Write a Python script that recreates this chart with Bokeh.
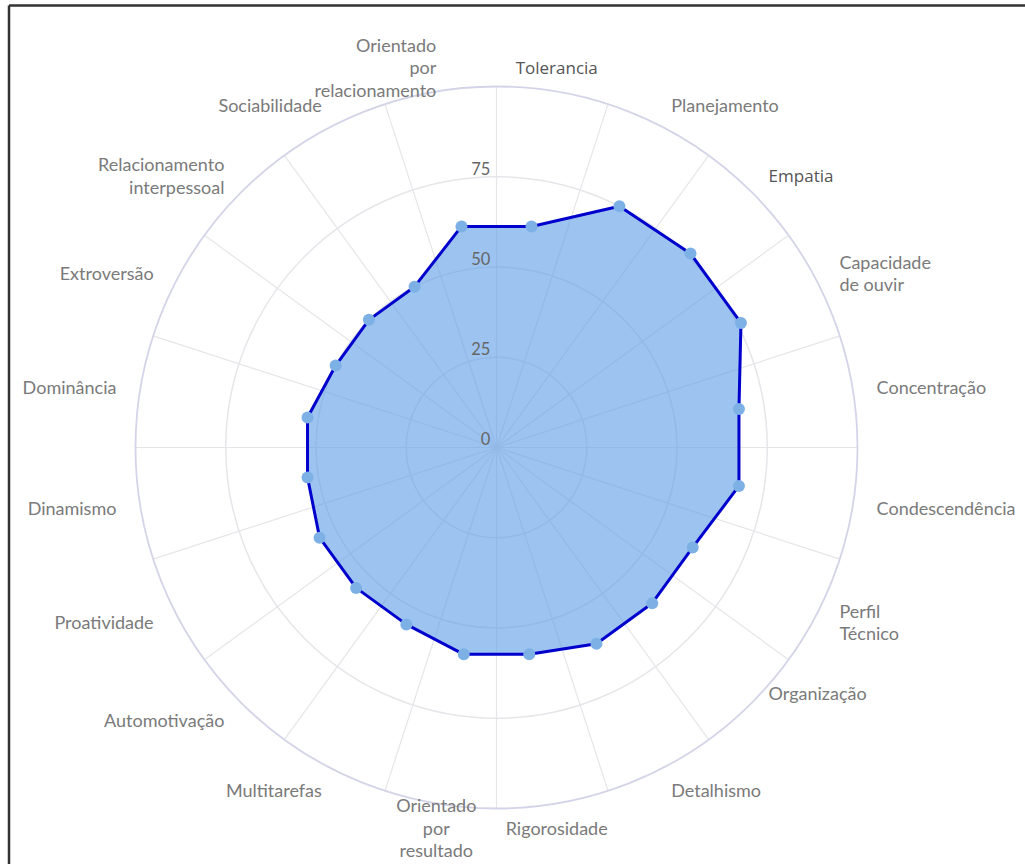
import numpy as np
from bokeh.plotting import figure
from bokeh.models import Range1d, ColumnDataSource
from bokeh.embed import file_html
from bokeh.resources import INLINE
from bokeh.core.properties import value

categories = [
    "Tolerancia", "Planejamento", "Empatia", "Capacidade\nde ouvir", "Concentração",
    "Condescendência", "Perfil\nTécnico", "Organização", "Detalhismo", "Rigorosidade",
    "Orientado\npor\nresultado", "Multitarefas", "Automotivação", "Proatividade", "Dinamismo",
    "Dominância", "Extroversão", "Relacionamento\ninterpessoal", "Sociabilidade",
    "Orientado\npor\nrelacionamento",
]
values = [62, 75, 76, 76, 68, 68, 61, 61, 61, 58, 58, 55, 55, 55, 53, 53, 50, 50, 50, 62]
ticks = [0, 25, 50, 75]
rmax = 100

W, H = 1025, 864
S = 3.61            # px per unit
cx_px, cy_px = 496, 447
xr = Range1d(-cx_px / S, (W - cx_px) / S)
yr = Range1d(-(H - cy_px) / S, cy_px / S)

p = figure(width=W, height=H, x_range=xr, y_range=yr, output_backend="svg",
           toolbar_location=None, min_border=0, outline_line_color=None)
p.axis.visible = False
p.grid.visible = False
p.background_fill_color = "white"

n = len(categories)
step = 360.0 / n
cat_ang = np.deg2rad(90 - step / 2 - step * np.arange(n))
spoke_ang = np.deg2rad(step * np.arange(n))

# spokes
p.segment(x0=0, y0=0, x1=rmax * np.cos(spoke_ang), y1=rmax * np.sin(spoke_ang),
          line_color="#e6e6ea", line_width=1.2)
# rings
p.circle(x=[0, 0, 0], y=[0, 0, 0], radius=[25, 50, 75], fill_color=None,
         line_color="#e6e6ea", line_width=1.5)
p.circle(x=[0], y=[0], radius=[rmax], fill_color=None, line_color="#d4d4e8", line_width=1.8)

# data
v = np.array(values, dtype=float)
xs = v * np.cos(cat_ang)
ys = v * np.sin(cat_ang)
p.patch(x=xs, y=ys, fill_color="#5B9BE6", fill_alpha=0.6, line_color=None)
p.line(x=np.append(xs, xs[0]), y=np.append(ys, ys[0]), line_color="#0000CC", line_width=3)
p.scatter(x=xs, y=ys, size=12, fill_color="#7DB1E6", line_color=None)

# tick labels
p.text(x=[-1.7] * len(ticks), y=[t + 0.6 for t in ticks], text=[str(t) for t in ticks],
       text_align="right", text_baseline="bottom", text_color="#666666",
       text_font=value("Lato"), text_font_size="16.5px")

# category labels
lr = 106.6
lx = lr * np.cos(cat_ang)
ly = lr * np.sin(cat_ang)
aligns = []
for i, c in enumerate(categories):
    if c in ("Tolerancia", "Rigorosidade", "Orientado\npor\nresultado"):
        aligns.append("center")
    elif lx[i] > 0:
        aligns.append("left")
    else:
        aligns.append("right")
ly = ly.copy()
ly[categories.index("Organização")] += 27 / S
dark = ["Tolerancia", "Empatia"]
normal_idx = [i for i, c in enumerate(categories) if c not in dark]
dark_idx = [i for i, c in enumerate(categories) if c in dark]

src_n = ColumnDataSource(dict(x=lx[normal_idx], y=ly[normal_idx],
                              t=[categories[i] for i in normal_idx],
                              a=[aligns[i] for i in normal_idx]))
p.text(x="x", y="y", text="t", text_align="a", source=src_n, text_baseline="middle",
       text_color="#7a7a7a", text_font=value("Lato"), text_font_size="18px",
       text_line_height=1.02)
src_d = ColumnDataSource(dict(x=lx[dark_idx], y=ly[dark_idx],
                              t=[categories[i] for i in dark_idx],
                              a=[aligns[i] for i in dark_idx]))
p.text(x="x", y="y", text="t", text_align="a", source=src_d, text_baseline="middle",
       text_color="#555555", text_font=value("Open Sans"), text_font_size="17px")

# document frame (left and top edge)
x0 = xr.start + 8.5 / S
y0 = yr.end - 5.0 / S
p.line(x=[x0, x0], y=[yr.start, y0], line_color="#333333", line_width=2.5)
p.line(x=[x0, xr.end], y=[y0, y0], line_color="#333333", line_width=2.5)

open("out.html", "w").write(file_html(p, INLINE))
